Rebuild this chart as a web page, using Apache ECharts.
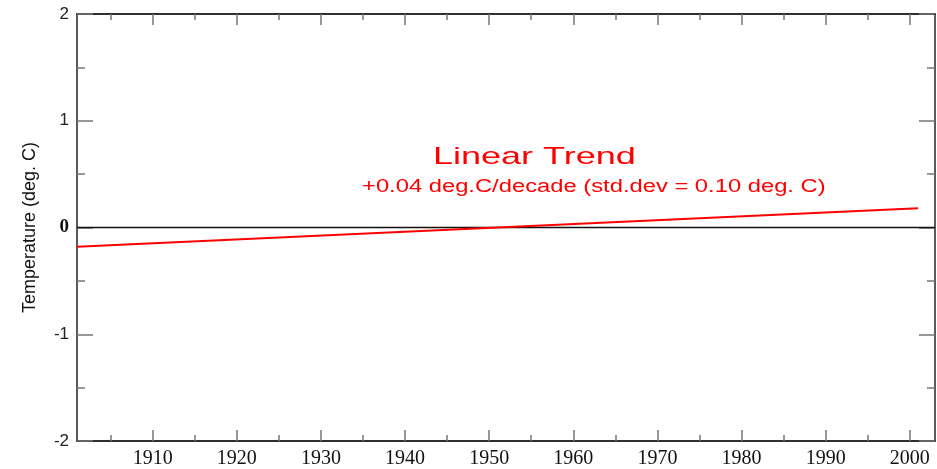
<!DOCTYPE html>
<html>
<head>
<meta charset="utf-8">
<script src="https://cdn.jsdelivr.net/npm/echarts@6/dist/echarts.min.js"></script>
<style>html,body{margin:0;padding:0;background:#fff;}#c{width:937px;height:469px;}</style>
</head>
<body>
<div id="c"></div>
<script>
// Data
const trendYears = [1901, 2001];
const trendValues = [-0.18, 0.18];
const zeroYears = [1901, 2003];
const zeroValues = [0, 0];
const xMajorTicks = [1910, 1920, 1930, 1940, 1950, 1960, 1970, 1980, 1990, 2000];
const xMinorTicks = [1905, 1915, 1925, 1935, 1945, 1955, 1965, 1975, 1985, 1995];
const yTicks = [-2, -1, 0, 1, 2];
const titleText = 'Linear Trend';
const subtitleText = '+0.04 deg.C/decade (std.dev = 0.10 deg. C)';
const yAxisTitle = 'Temperature (deg. C)';

const X_MIN = 1901, X_MAX = 2003;
const axisLineStyle = { color: '#222', width: 1.5 };
const tickStyle = { color: '#777', width: 1.5 };

function xAxisDef(position, ticks, len, showLabel) {
  return {
    type: 'value', position: position, min: X_MIN, max: X_MAX,
    axisLine: { show: true, onZero: false, lineStyle: axisLineStyle },
    axisTick: { show: true, inside: true, length: len, customValues: ticks, lineStyle: tickStyle },
    axisLabel: showLabel ? {
      show: true, customValues: ticks, margin: 8,
      formatter: function (v) { return String(v); },
      fontFamily: 'Liberation Serif', fontSize: 20, color: '#111'
    } : { show: false },
    splitLine: { show: false }
  };
}
function yAxisDef(position, showLabel, name) {
  return {
    type: 'value', position: position, min: -2, max: 2, interval: 1,
    name: name || '', nameLocation: 'middle', nameGap: 38,
    nameTextStyle: { fontFamily: 'Liberation Sans', fontSize: 18, color: '#111' },
    axisLine: { show: true, onZero: false, lineStyle: axisLineStyle },
    axisTick: { show: true, inside: true, length: 16, lineStyle: tickStyle },
    minorTick: { show: true, splitNumber: 2, length: 8, lineStyle: tickStyle },
    axisLabel: showLabel ? {
      show: true, margin: 8, color: '#222',
      formatter: function (v) { return v === 0 ? '{z|0}' : '{n|' + v + '}'; },
      rich: {
        n: { fontFamily: 'Liberation Sans', fontSize: 17, color: '#222' },
        z: { fontFamily: 'Liberation Serif', fontSize: 19, fontWeight: 'bold', color: '#111' }
      }
    } : { show: false },
    splitLine: { show: false }, minorSplitLine: { show: false }
  };
}

const chart = echarts.init(document.getElementById('c'), null, { renderer: 'canvas' });
chart.setOption({
  animation: false,
  backgroundColor: '#fff',
  grid: { left: 77, right: 2, top: 14, bottom: 26, containLabel: false },
  xAxis: [
    xAxisDef('bottom', xMajorTicks, 11, true),
    xAxisDef('bottom', xMinorTicks, 6, false),
    xAxisDef('top', xMajorTicks, 11, false),
    xAxisDef('top', xMinorTicks, 6, false)
  ],
  yAxis: [
    yAxisDef('left', true, yAxisTitle),
    yAxisDef('right', false, '')
  ],
  graphic: [
    { type: 'text', left: 433, top: 145, scaleX: 1.5, style: { text: titleText, fontFamily: 'Liberation Sans', fontSize: 24, fill: '#ff0000' } },
    { type: 'text', left: 362, top: 178, scaleX: 1.32, style: { text: subtitleText, fontFamily: 'Liberation Sans', fontSize: 18, fill: '#ff0000' } }
  ],
  series: [
    {
      type: 'line', xAxisIndex: 0, yAxisIndex: 0, symbol: 'none', silent: true,
      data: zeroYears.map((y, i) => [y, zeroValues[i]]),
      lineStyle: { color: '#111', width: 1.5 }
    },
    {
      type: 'line', xAxisIndex: 0, yAxisIndex: 0, symbol: 'none', silent: true,
      data: trendYears.map((y, i) => [y, trendValues[i]]),
      lineStyle: { color: '#ff0000', width: 2 }
    }
  ]
});
</script>
</body>
</html>
